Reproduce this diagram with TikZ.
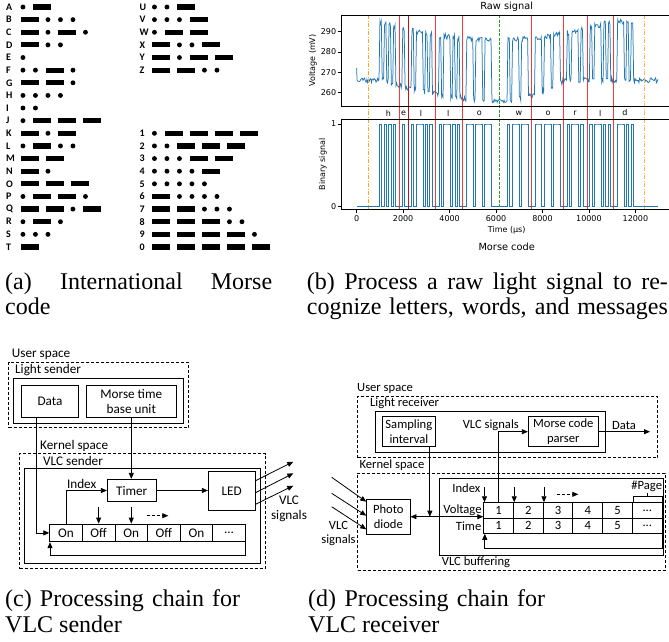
\documentclass[tikz,border=0pt]{standalone}
\usepackage{fontspec}
\setmainfont{Liberation Serif}
\newfontfamily\calfont{Carlito}
\newfontfamily\dejafont{DejaVu Sans}
\usetikzlibrary{arrows.meta}
\definecolor{tabblue}{RGB}{31,119,180}
\definecolor{lnred}{RGB}{245,35,35}
\definecolor{lndred}{RGB}{195,20,20}
\definecolor{lnorange}{RGB}{255,165,20}
\definecolor{lngreen}{RGB}{40,160,40}
\newcommand\cfnt{\calfont\fontsize{13.2}{15}\selectfont}
\newcommand\dfnt{\calfont\fontsize{12.6}{15}\selectfont}
\newcommand\mrow[5]{%
  \pgfmathsetmacro\my{7+12.63*#3}%
  \node[mlet] (m-#4) at (#1,\my) {#4};%
  \xdef\mx{#2}%
  \foreach \e in {#5}{%
    \if\e d%
      \fill (\mx+2.45,\my) circle[radius=2.45pt];%
      \xdef\mx{\fpeval{\mx+12.5}}%
    \else
      \fill (\mx,\my-2.6) rectangle (\mx+18.3,\my+2.6);%
      \xdef\mx{\fpeval{\mx+25}}%
    \fi}}
\def\statelist{0,0,0,0,0,0,0,0,0,0,%
1,0,1,0,1,0,1,0,0,0,%
1,0,0,0,1,0,1,1,1,0,%
1,0,1,0,0,0,1,0,1,1,%
1,0,1,0,1,0,0,0,1,1,%
1,0,1,1,1,0,1,1,1,0,%
0,0,0,0,0,0,1,0,1,1,%
1,0,1,1,1,0,0,0,1,1,%
1,0,1,1,1,0,1,1,1,0,%
0,0,1,0,1,1,1,0,1,0,%
0,0,1,0,1,1,1,0,1,0,%
1,0,0,0,1,1,1,0,1,0,%
1,0,0,0,0,0,0,0,0,0,0,0}
\begin{document}
\begin{tikzpicture}[x=1pt,y=-1pt,
  declare function={
    xn(\p)=379.47+2.286*\p;
    vy(\q)=31.7+(290-\q)*2.02;
    by(\q)=206.7-82.7*\q;
    hi(\p)=min(295,286+0.0035*(\p-50)^2);
    lo(\p)=(\p<52)?min(266,256+0.004*(\p-52)^2):min(266,256+0.012*(\p-52)^2);
  },
  mlet/.style={font=\calfont\bfseries\fontsize{10}{12}\selectfont, inner sep=0pt, anchor=west},
  capt/.style={font=\fontsize{24}{26}\selectfont, inner sep=0pt, anchor=base west},
  tick/.style={font=\dejafont\fontsize{8}{9.6}\selectfont, inner sep=0pt},
  big/.style={font=\dejafont\fontsize{9.8}{11.5}\selectfont, inner sep=0pt},
  axl/.style={line width=0.8pt, black},
  sigl/.style={line width=0.75pt, tabblue},
  redl/.style={line width=1.3pt, lnred, opacity=0.9},
  lblc/.style={font=\cfnt, inner sep=0pt},
  lbld/.style={font=\dfnt, inner sep=0pt},
  sbox/.style={draw, line width=0.9pt, inner sep=0pt},
  dboxs/.style={draw, line width=0.8pt, dash pattern=on 3pt off 2pt, inner sep=0pt},
  cboxc/.style={sbox, font=\cfnt, align=center},
  cboxd/.style={sbox, font=\dfnt, align=center},
  arr/.style={-{Triangle[length=6pt,width=5pt]}, line width=0.8pt},
  darr/.style={{Triangle[length=6pt,width=5pt]}-{Triangle[length=6pt,width=5pt]}, line width=0.8pt}
]
\useasboundingbox (0,0) rectangle (669,641);

% ---------------- (a) Morse table
\mrow{6}{20.5}{0}{A}{d,D}
\mrow{6}{20.5}{1}{B}{D,d,d,d}
\mrow{6}{20.5}{2}{C}{D,d,D,d}
\mrow{6}{20.5}{3}{D}{D,d,d}
\mrow{6}{20.5}{4}{E}{d}
\mrow{6}{20.5}{5}{F}{d,d,D,d}
\mrow{6}{20.5}{6}{G}{D,D,d}
\mrow{6}{20.5}{7}{H}{d,d,d,d}
\mrow{6}{20.5}{8}{I}{d,d}
\mrow{6}{20.5}{9}{J}{d,D,D,D}
\mrow{6}{20.5}{10}{K}{D,d,D}
\mrow{6}{20.5}{11}{L}{d,D,d,d}
\mrow{6}{20.5}{12}{M}{D,D}
\mrow{6}{20.5}{13}{N}{D,d}
\mrow{6}{20.5}{14}{O}{D,D,D}
\mrow{6}{20.5}{15}{P}{d,D,D,d}
\mrow{6}{20.5}{16}{Q}{D,D,d,D}
\mrow{6}{20.5}{17}{R}{d,D,d}
\mrow{6}{20.5}{18}{S}{d,d,d}
\mrow{6}{20.5}{19}{T}{D}
\mrow{139.5}{152}{0}{U}{d,d,D}
\mrow{139.5}{152}{1}{V}{d,d,d,D}
\mrow{139.5}{152}{2}{W}{d,D,D}
\mrow{139.5}{152}{3}{X}{D,d,d,D}
\mrow{139.5}{152}{4}{Y}{D,d,D,D}
\mrow{139.5}{152}{5}{Z}{D,D,d,d}
\mrow{139.5}{152}{10}{1}{d,D,D,D,D}
\mrow{139.5}{152}{11}{2}{d,d,D,D,D}
\mrow{139.5}{152}{12}{3}{d,d,d,D,D}
\mrow{139.5}{152}{13}{4}{d,d,d,d,D}
\mrow{139.5}{152}{14}{5}{d,d,d,d,d}
\mrow{139.5}{152}{15}{6}{D,d,d,d,d}
\mrow{139.5}{152}{16}{7}{D,D,d,d,d}
\mrow{139.5}{152}{17}{8}{D,D,D,d,d}
\mrow{139.5}{152}{18}{9}{D,D,D,D,d}
\mrow{139.5}{152}{19}{0}{D,D,D,D,D}

% ---------------- (b) plot
\begin{scope}
\clip (0,0) rectangle (669,641);
\pgfmathsetseed{11}
% raw signal
\draw[sigl] ({xn(-10)},{vy(272)})
  \foreach \s [count=\k from -10] in \statelist {
    -- ({xn(\k+0.2)},{vy(\s*hi(\k)+(1-\s)*lo(\k)+1.3*rand)})
    -- ({xn(\k+0.5)},{vy(\s*hi(\k)+(1-\s)*lo(\k)+1.3*rand)})
    -- ({xn(\k+0.8)},{vy(\s*hi(\k)+(1-\s)*lo(\k)+1.3*rand)}) };
% binary signal
\draw[sigl] ({xn(-10)},{by(0)})
  \foreach \s [count=\k from -10] in \statelist {
    -- ({xn(\k)},{by(\s)}) -- ({xn(\k+1)},{by(\s)}) };
% vertical marker lines
\foreach \xx in {399.5,435.5,462.5,531.5,563.5,587.5,613.5}
  \draw[redl] (\xx,15) -- (\xx,209.3);
\draw[line width=1.1pt, lndred] (408.5,15) -- (408.5,209.3);
\draw[line width=1.2pt, lnorange, dash pattern=on 4pt off 1.5pt on 1pt off 1.5pt] (368.5,15) -- (368.5,209.3);
\draw[line width=1.2pt, lnorange, opacity=0.8, dash pattern=on 4pt off 1.5pt on 1pt off 1.5pt] (644.5,15) -- (644.5,209.3);
\draw[line width=1.3pt, lngreen, dash pattern=on 3pt off 1.5pt] (499.5,15) -- (499.5,209.3);
% axes
\draw[axl] (671.7,15) -- (341.7,15) -- (341.7,106) -- (671.7,106);
\draw[axl] (671.7,119.5) -- (341.7,119.5) -- (341.7,209.3) -- (671.7,209.3);
\foreach \v in {260,270,280,290}{
  \draw[axl] (338.2,{vy(\v)}) -- (341.7,{vy(\v)});
  \node[tick, anchor=east] (yt\v) at (336.3,{vy(\v)}) {\v};
}
\foreach \v in {0,1}{
  \draw[axl] (338.2,{by(\v)}) -- (341.7,{by(\v)});
  \node[tick, anchor=east] (bt\v) at (336.3,{by(\v)}) {\v};
}
\foreach \t in {0,2000,4000,6000,8000,10000,12000}{
  \draw[axl] ({356.7+0.02323*\t},209.3) -- ({356.7+0.02323*\t},212.8);
  \node[tick, anchor=north] (xt\t) at ({356.7+0.02323*\t},215.3) {\t};
}
\foreach \xx/\l [count=\j] in {388.3/h,403.7/e,421/l,448.3/l,479.3/o,519/w,548/o,575/r,600.3/l,625/d}
  \node[tick] (let\j) at (\xx,113) {\l};
\node[big] (rawttl) at (506.7,7) {Raw signal};
\node[tick, rotate=90] (vlab) at (313,60.5) {Voltage (mV)};
\node[tick, rotate=90] (blab) at (323,164.5) {Binary signal};
\node[tick] (tlab) at (506.7,230.7) {Time (µs)};
\node[big] (mclab) at (506.7,247.3) {Morse code};
\end{scope}

% ---------------- captions
\node[capt] (capa1) at (5,289) {\makebox[267pt][s]{(a) International Morse}};
\node[capt] (capa2) at (5,314.5) {code};
\node[capt] (capb1) at (306.7,289) {\makebox[361pt][s]{(b) Process a raw light signal to re-}};
\node[capt] (capb2) at (306.7,314.5) {\makebox[361pt][s]{cognize letters, words, and messages}};
\node[capt] (capc1) at (5,606) {\makebox[235pt][s]{(c) Processing chain for}};
\node[capt] (capc2) at (5,632) {VLC sender};
\node[capt] (capd1) at (308,606) {\makebox[237pt][s]{(d) Processing chain for}};
\node[capt] (capd2) at (308,632) {VLC receiver};

% ---------------- (c) sender
\node[dboxs, minimum width=180pt, minimum height=65.6pt, anchor=north west] (userC) at (8.3,361.7) {};
\node[lblc, anchor=west] (userClbl) at (11.7,354.5) {User space};
\node[sbox, minimum width=170pt, minimum height=45pt, anchor=north west] (lsend) at (13.3,378.3) {};
\node[lblc, anchor=west] (lsendlbl) at (15,370.5) {Light sender};
\node[cboxc, minimum width=56.6pt, minimum height=32.3pt] (data) at (50,401.2) {Data};
\node[cboxc, minimum width=90.7pt, minimum height=32.3pt] (mtbu) at (131.3,401.2) {Morse time\\base unit};
\node[lblc, anchor=west] (kernClbl) at (40,446.3) {Kernel space};
\node[dboxs, minimum width=245.7pt, minimum height=115pt, anchor=north west] (kernC) at (19.3,453.3) {};
\node[lblc, anchor=west] (vsendlbl) at (43,460.8) {VLC sender};
\node[sbox, minimum width=236pt, minimum height=94.4pt, anchor=north west] (vsend) at (24,468.3) {};
\node[cboxc, minimum width=48.7pt, minimum height=22.4pt] (timer) at (131.7,490.5) {Timer};
\node[cboxc, minimum width=46.7pt, minimum height=39pt] (led) at (231.7,491.2) {LED};
\foreach \t [count=\k] in {On,Off,On,Off,On}
  \node[cboxc, minimum width=32.6pt, minimum height=17.7pt, anchor=west] (c\k) at ({49.3+32.6*(\k-1)},532.9) {\t};
\node[cboxc, minimum width=32.6pt, minimum height=17.7pt, anchor=west] (c6) at (212.3,532.9) {...};
\node[lblc] (idxC) at (81.7,484.3) {Index};
\draw[arr] ([xshift=-14pt]data.south) |- (c1.west);
\draw[arr] (mtbu.south) -- (mtbu.south |- timer.north);
\draw[arr] (c1.north) |- (timer.west);
\draw[arr] (timer.east) -- (timer.east -| led.west);
\draw[arr] ([yshift=17pt]c2.north) -- (c2.north);
\draw[arr] ([yshift=17pt]c3.north) -- (c3.north);
\coordinate (dsC1) at (146.7,515.7);
\coordinate (dsC2) at (168.3,515.7);
\draw[arr, dash pattern=on 3pt off 2pt] (dsC1) -- (dsC2);
\draw[arr] (c6.south east) -- ++(0,13.3) -| ([xshift=0.7pt]c1.south west);
\coordinate (vC1) at (293.3,461.7);
\coordinate (vC2) at (293.3,473.3);
\coordinate (vC3) at (293.3,485.7);
\draw[arr] ([yshift=10.5pt]led.east) -- (vC1);
\draw[arr] ([yshift=-1.5pt]led.east) -- (vC2);
\draw[arr] ([yshift=-13.1pt]led.east) -- (vC3);
\node[lblc, align=center] (vlcClbl) at (289,508.5) {VLC\\signals};

% ---------------- (d) receiver
\node[dboxs, minimum width=300pt, minimum height=61.3pt, anchor=north west] (userD) at (357.3,396) {};
\node[lbld, anchor=west] (userDlbl) at (357,388.3) {User space};
\node[sbox, minimum width=230pt, minimum height=41pt, anchor=north west] (lrecv) at (375,410.7) {};
\node[lbld, anchor=west] (lrecvlbl) at (370,403.3) {Light receiver};
\node[cboxd, minimum width=52.3pt, minimum height=30pt] (samp) at (408.85,431.7) {Sampling\\interval};
\node[cboxd, minimum width=70pt, minimum height=30pt] (parser) at (563.3,431.7) {Morse code\\parser};
\node[lbld] (vlcDlbl1) at (490.8,425) {VLC signals};
\node[lbld] (dataDlbl) at (624,425) {Data};
\coordinate (dataD) at (650,431.7);
\draw[arr] (parser.east) -- (dataD);
\node[dboxs, minimum width=307.7pt, minimum height=97.3pt, anchor=north west] (kernD) at (357.3,472.7) {};
\node[lbld, anchor=west] (kernDlbl) at (359.3,465) {Kernel space};
\node[sbox, minimum width=224pt, minimum height=76.7pt, anchor=north west] (vbuf) at (439.3,478.3) {};
\node[lbld, anchor=west] (vbuflbl) at (441.7,562.5) {VLC buffering};
\node[cboxd, minimum width=43.3pt, minimum height=35pt] (photo) at (388.35,516.7) {Photo\\diode};
\foreach \k in {1,2,3,4,5}{
  \node[cboxd, minimum width=29.73pt, minimum height=15.3pt, anchor=west] (v\k) at ({483.3+29.73*(\k-1)},510.35) {\k};
  \node[cboxd, minimum width=29.73pt, minimum height=15.3pt, anchor=west] (t\k) at ({483.3+29.73*(\k-1)},525.65) {\k};
}
\node[cboxd, minimum width=29.73pt, minimum height=15.3pt, anchor=west] (v6) at (631.95,510.35) {...};
\node[cboxd, minimum width=29.73pt, minimum height=15.3pt, anchor=west] (t6) at (631.95,525.65) {...};
\node[lbld, anchor=east] (voltlbl) at (481.8,510) {Voltage};
\node[lbld, anchor=east] (timelbl) at (481.5,526) {Time};
\node[lbld, anchor=east] (idxD) at (480.5,488) {Index};
\node[lbld] (pagelbl) at (646.7,486) {\#Page};
\draw[arr] ([xshift=21pt]samp.south) -- ([xshift=21pt]samp.south |- photo.east);
\draw[darr] (photo.east) -- (photo.east -| v1.west);
\draw[arr] (v1.north) |- (parser.west);
\draw[arr] ([xshift=1.2pt,yshift=15pt]v1.north west) -- ([xshift=1.2pt]v1.north west);
\draw[arr] ([xshift=1.2pt,yshift=15pt]v2.north west) -- ([xshift=1.2pt]v2.north west);
\draw[arr] ([xshift=1.2pt,yshift=15pt]v3.north west) -- ([xshift=1.2pt]v3.north west);
\coordinate (dsD1) at (557.3,494.3);
\coordinate (dsD2) at (578.3,494.3);
\draw[arr, dash pattern=on 3pt off 2pt] (dsD1) -- (dsD2);
\draw[line width=0.8pt] ([xshift=1pt]v6.north west) -- ++(0,-6) -| ([xshift=-0.5pt]v6.north east);
\draw[line width=0.8pt] ([yshift=6pt]v6.north) -- ++(0,-3.5);
\draw[arr] (t6.south east) -- ++(0,15) -| ([xshift=1.5pt]t1.south west);
\coordinate (inD1) at (331.7,477.3);
\coordinate (inD2) at (331.7,493.3);
\coordinate (inD3) at (331.7,506.7);
\draw[arr] (inD1) -- ([yshift=15pt]photo.west);
\draw[arr] (inD2) -- ([yshift=1pt]photo.west);
\draw[arr] (inD3) -- ([yshift=-12.6pt]photo.west);
\node[lbld, align=center, font=\calfont\fontsize{12.6}{14}\selectfont] (vlcDlbl2) at (338.5,533.7) {VLC\\signals};
\end{tikzpicture}
\end{document}
